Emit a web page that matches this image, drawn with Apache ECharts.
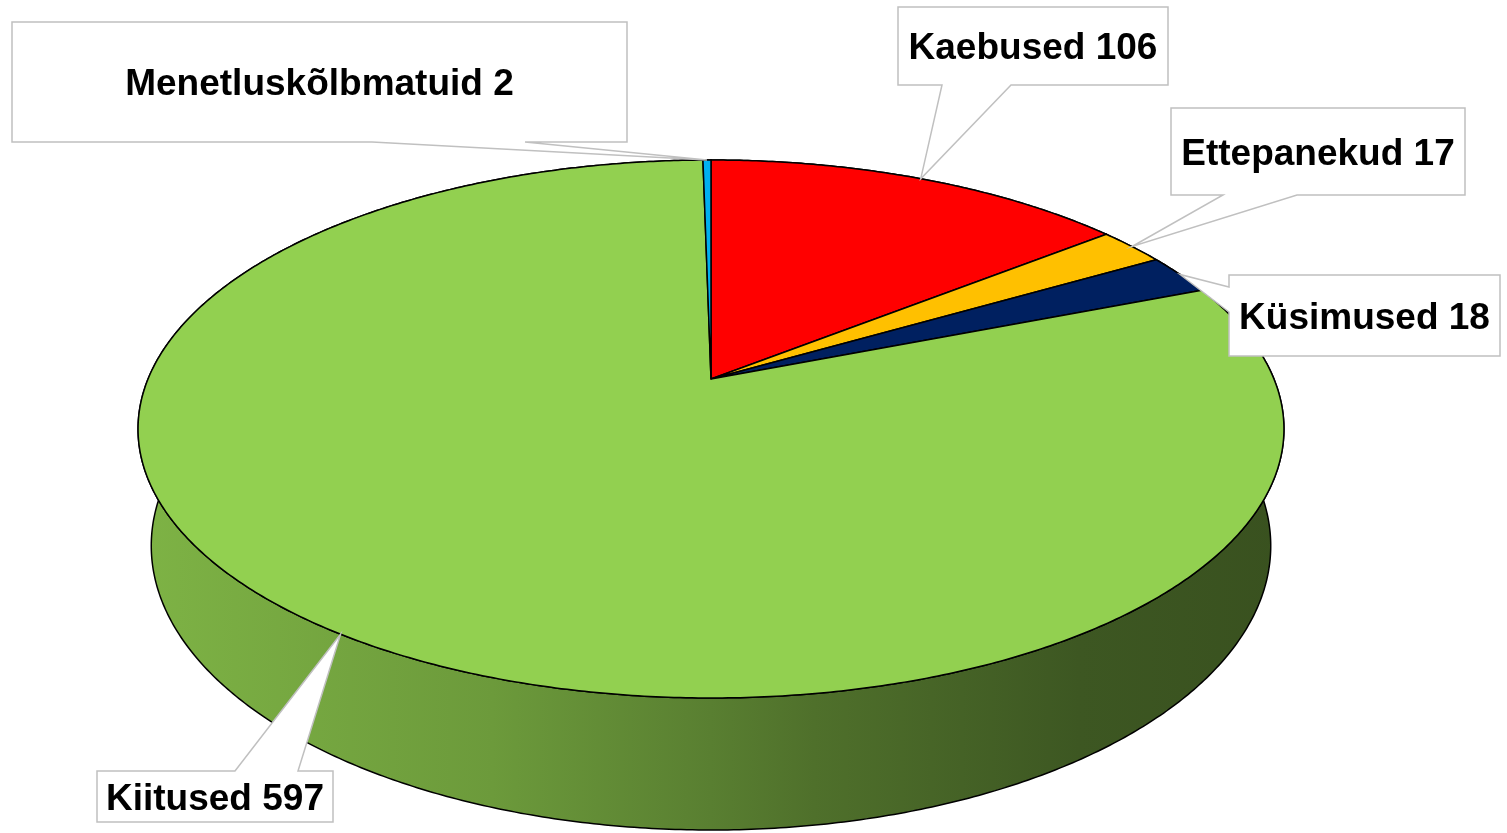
<!DOCTYPE html>
<html>
<head>
<meta charset="utf-8">
<title>Pöördumised</title>
<script src="https://cdn.jsdelivr.net/npm/echarts@6/dist/echarts.min.js"></script>
<style>
  html, body { margin: 0; padding: 0; background: #fff; }
  #chart { width: 1507px; height: 833px; }
</style>
</head>
<body>
<div id="chart"></div>
<script>
// slices clockwise from 12 o'clock
const categories = ['Kaebused', 'Ettepanekud', 'Küsimused', 'Kiitused', 'Menetluskõlbmatuid']
const values = [106, 17, 18, 597, 2]
const colors = ['#ff0000', '#ffc000', '#002060', '#92d050', '#00b0f0']

// callout boxes [x, y, w, h], edge the pointer leaves from, and where on that edge it starts/ends
const callouts = [
  { box: [898, 7, 270, 78], edge: 'bottom', base: [942, 1011] },
  { box: [1171, 108, 294, 87], edge: 'bottom', base: [1223, 1297] },
  { box: [1229, 275, 271, 81], edge: 'left', base: [287, 312] },
  { box: [97, 771, 236, 51], edge: 'top', base: [235, 298] },
  { box: [12, 22, 615, 120], edge: 'bottom', base: [372, 525] }
]

// simple perspective camera for a unit-radius disc
const view = {
  cx: 711,
  cy: 379,
  dist: 4.773,
  focal: 2687,
  tilt: 27.47 * Math.PI / 180,
  depth: 0.2358
}

// side wall shading, left to right (fraction of base colour)
const sideShade = [[0, 0.86], [0.31, 0.74], [0.5, 0.61], [0.59, 0.54], [0.82, 0.42], [1, 0.39]]

const total = values.reduce((a, b) => a + b, 0)
const starts = []
let acc = 0
for (let i = 0; i < values.length; i++) {
  starts.push(acc / total * Math.PI * 2)
  acc += values[i]
}

function project(theta, z) {
  const X = Math.sin(theta)
  const Y = Math.cos(theta)
  const s = Math.sin(view.tilt)
  const c = Math.cos(view.tilt)
  const d = view.dist + Y * c - z * s
  return [view.cx + view.focal * X / d, view.cy - view.focal * (Y * s + z * c) / d]
}

function shade(hex, f) {
  const n = parseInt(hex.slice(1), 16)
  const r = Math.round(((n >> 16) & 255) * f)
  const g = Math.round(((n >> 8) & 255) * f)
  const b = Math.round((n & 255) * f)
  return 'rgb(' + r + ',' + g + ',' + b + ')'
}

function calloutPoints(c, tip) {
  const [x, y, w, h] = c.box
  const [b1, b2] = c.base
  if (c.edge === 'bottom') {
    return [[x, y], [x + w, y], [x + w, y + h], [b2, y + h], tip, [b1, y + h], [x, y + h]]
  }
  if (c.edge === 'top') {
    return [[x, y], [b1, y], tip, [b2, y], [x + w, y], [x + w, y + h], [x, y + h]]
  }
  // left
  return [[x, y], [x + w, y], [x + w, y + h], [x, y + h], [x, b2], tip, [x, b1]]
}

function renderItem(params, api) {
  const i = params.dataIndex
  const a0 = starts[i]
  const a1 = a0 + api.value(0) / total * Math.PI * 2
  const n = Math.max(2, Math.ceil((a1 - a0) / (Math.PI / 360)))
  const top = []
  const bottom = []
  for (let k = 0; k <= n; k++) {
    const t = a0 + (a1 - a0) * k / n
    top.push(project(t, 0))
    bottom.push(project(t, -view.depth))
  }
  const face = [[view.cx, view.cy]].concat(top)
  const side = top.concat(bottom.slice().reverse())

  const left = view.cx - 575
  const right = view.cx + 575
  const sideFill = new echarts.graphic.LinearGradient(left, 0, right, 0,
    sideShade.map(p => ({ offset: p[0], color: shade(colors[i], p[1]) })), true)

  const tip = project((a0 + a1) / 2, 0)
  const c = callouts[i]
  const [bx, by, bw, bh] = c.box

  return {
    type: 'group',
    children: [
      {
        type: 'polygon',
        z2: 1,
        shape: { points: side },
        style: { fill: sideFill, stroke: '#000', lineWidth: 1.5, lineJoin: 'round' }
      },
      {
        type: 'polygon',
        z2: 10,
        shape: { points: face },
        style: { fill: colors[i], stroke: '#000', lineWidth: 1.5, lineJoin: 'round' }
      },
      {
        type: 'polygon',
        z2: 20,
        shape: { points: calloutPoints(c, tip) },
        style: { fill: '#fff', stroke: '#c0c0c0', lineWidth: 1.5 }
      },
      {
        type: 'text',
        z2: 21,
        style: {
          text: api.value(1) + ' ' + api.value(0),
          x: bx + bw / 2,
          y: by + bh / 2 + 3,
          align: 'center',
          verticalAlign: 'middle',
          fontFamily: '"Liberation Sans", Arial, sans-serif',
          fontWeight: 'bold',
          fontSize: 37,
          fill: '#000'
        }
      }
    ]
  }
}

const chart = echarts.init(document.getElementById('chart'), null, { renderer: 'canvas' })
chart.setOption({
  backgroundColor: '#fff',
  animation: false,
  series: [
    {
      type: 'custom',
      coordinateSystem: 'none',
      silent: true,
      renderItem: renderItem,
      dimensions: ['value', 'name'],
      data: values.map((v, i) => [v, categories[i]])
    }
  ]
})
</script>
</body>
</html>
